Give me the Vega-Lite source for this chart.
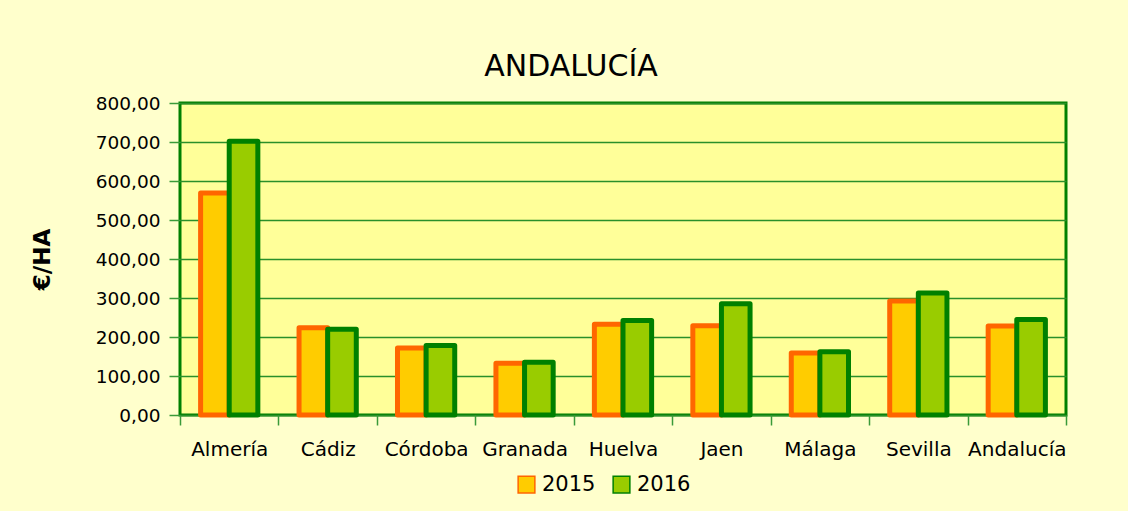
{
  "$schema": "https://vega.github.io/schema/vega-lite/v6.json",
  "width": 886,
  "height": 312,
  "autosize": {"type": "none"},
  "padding": {"left": 180, "top": 103, "right": 62, "bottom": 96},
  "background": "#FFFFCC",
  "title": {
    "text": "ANDALUCÍA",
    "fontSize": 30,
    "fontWeight": "normal",
    "font": "DejaVu Sans",
    "color": "#000000",
    "anchor": "middle",
    "dx": -52,
    "offset": 12
  },
  "data": {
    "values": [
      {"provincia": "Almería", "year": "2015", "value": 569},
      {"provincia": "Almería", "year": "2016", "value": 702},
      {"provincia": "Cádiz", "year": "2015", "value": 224},
      {"provincia": "Cádiz", "year": "2016", "value": 220},
      {"provincia": "Córdoba", "year": "2015", "value": 172},
      {"provincia": "Córdoba", "year": "2016", "value": 178},
      {"provincia": "Granada", "year": "2015", "value": 133},
      {"provincia": "Granada", "year": "2016", "value": 135},
      {"provincia": "Huelva", "year": "2015", "value": 233},
      {"provincia": "Huelva", "year": "2016", "value": 242},
      {"provincia": "Jaen", "year": "2015", "value": 229},
      {"provincia": "Jaen", "year": "2016", "value": 285},
      {"provincia": "Málaga", "year": "2015", "value": 159},
      {"provincia": "Málaga", "year": "2016", "value": 162},
      {"provincia": "Sevilla", "year": "2015", "value": 292},
      {"provincia": "Sevilla", "year": "2016", "value": 313},
      {"provincia": "Andalucía", "year": "2015", "value": 228},
      {"provincia": "Andalucía", "year": "2016", "value": 245}
    ]
  },
  "mark": {"type": "bar", "strokeWidth": 5, "strokeJoin": "round", "fillOpacity": 1, "clip": false},
  "encoding": {
    "x": {
      "field": "provincia",
      "type": "nominal",
      "sort": ["Almería", "Cádiz", "Córdoba", "Granada", "Huelva", "Jaen", "Málaga", "Sevilla", "Andalucía"],
      "scale": {"paddingInner": 0, "paddingOuter": 0},
      "axis": {
        "title": null,
        "labelAngle": 0,
        "tickBand": "extent",
        "domain": false,
        "ticks": true,
        "tickColor": "#3a9a3a",
        "tickSize": 10,
        "tickWidth": 1.5,
        "labelFontSize": 20,
        "labelColor": "#000000",
        "labelPadding": 14,
        "grid": false
      }
    },
    "xOffset": {
      "field": "year",
      "type": "nominal",
      "scale": {"paddingInner": 0, "paddingOuter": 0.72}
    },
    "y": {
      "field": "value",
      "type": "quantitative",
      "scale": {"domain": [0, 800], "nice": false},
      "axis": {
        "title": "€/HA",
        "titleFontSize": 23,
        "titleFontWeight": "bold",
        "titleColor": "#000000",
        "titlePadding": 41,
        "values": [0, 100, 200, 300, 400, 500, 600, 700, 800],
        "labelExpr": "replace(format(datum.value, '.2f'), '.', ',')",
        "labelFontSize": 18.5,
        "labelColor": "#000000",
        "labelPadding": 9,
        "domain": false,
        "tickColor": "#3a9a3a",
        "tickSize": 11,
        "tickWidth": 1.5,
        "grid": true,
        "gridColor": "#2a8f2a",
        "gridWidth": 1.5
      }
    },
    "fill": {
      "field": "year",
      "type": "nominal",
      "scale": {"domain": ["2015", "2016"], "range": ["#FFCC00", "#99CC00"]},
      "legend": {
        "title": null,
        "orient": "none",
        "legendX": 336,
        "legendY": 371,
        "direction": "horizontal",
        "symbolType": "square",
        "symbolSize": 280,
        "symbolStrokeWidth": 1.5,
        "labelFontSize": 21,
        "labelColor": "#000000",
        "labelOffset": 5,
        "columnPadding": 14,
        "padding": 0
      }
    },
    "stroke": {
      "field": "year",
      "type": "nominal",
      "scale": {"domain": ["2015", "2016"], "range": ["#FF6600", "#008000"]},
      "legend": {
        "title": null,
        "orient": "none",
        "legendX": 336,
        "legendY": 371,
        "direction": "horizontal",
        "symbolType": "square",
        "symbolSize": 280,
        "symbolStrokeWidth": 1.5,
        "labelFontSize": 21,
        "labelColor": "#000000",
        "labelOffset": 5,
        "columnPadding": 14,
        "padding": 0
      }
    }
  },
  "config": {
    "font": "DejaVu Sans",
    "view": {"stroke": "#008000", "strokeWidth": 3, "fill": "#FFFF99"},
    "axis": {"labelFont": "DejaVu Sans", "titleFont": "DejaVu Sans"},
    "legend": {"labelFont": "DejaVu Sans"}
  }
}
